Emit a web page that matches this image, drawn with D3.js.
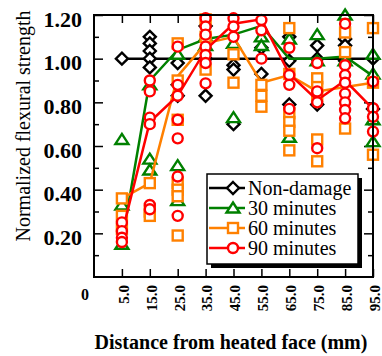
<!DOCTYPE html>
<html>
<head>
<meta charset="utf-8">
<script src="https://cdn.jsdelivr.net/npm/d3@7"></script>
<style>
  body { margin: 0; background: #fff; }
  svg text { font-family: "Liberation Serif", "Times New Roman", serif; }
</style>
</head>
<body>
<svg id="chart" width="382" height="356"></svg>
<script>
// x categories (first one is the origin "0")
const xTickLabels = ["0", "5.0", "15.0", "25.0", "35.0", "45.0", "55.0", "65.0", "75.0", "85.0", "95.0"];
const distances = xTickLabels.slice(1);
const yTicks = [0.2, 0.4, 0.6, 0.8, 1.0, 1.2];
const yMinorTicks = [0.1, 0.3, 0.5, 0.7, 0.9, 1.1];
const seriesNames = ["Non-damage", "30 minutes", "60 minutes", "90 minutes"];

// mean lines
const meanNonDamage = [1.00, 1.00, 1.00, 1.00, 1.00, 1.00, 1.00, 1.00, 1.00, 1.00];
const mean30 = [0.16, 0.90, 1.04, 1.09, 1.11, 1.15, 1.00, 1.00, 1.01, 0.92];
const mean60 = [0.36, 0.43, 0.92, 1.07, 1.10, 0.89, 0.925, 0.85, 0.87, 0.89];
const mean90 = [0.20, 0.71, 0.83, 1.04, 1.16, 1.18, 0.93, 0.81, 0.90, 0.77];

// individual specimens, one list per distance
const ptsNonDamage = [
  [1.00],
  [1.10, 1.07, 1.035, 1.00, 0.96],
  [0.98, 0.88, 0.83],
  [1.15, 1.00, 0.83],
  [0.97, 0.95, 0.70],
  [1.05, 0.93],
  [1.10, 0.99, 0.79],
  [1.06, 1.00, 0.79],
  [1.09, 1.06, 0.99],
  [1.00, 0.77]
];
const pts30 = [
  [0.63, 0.33, 0.15],
  [0.88, 0.54, 0.49],
  [1.02, 0.51, 0.35],
  [1.10, 1.06],
  [1.07, 0.73],
  [1.10, 1.06],
  [1.09, 0.64],
  [1.11, 0.99],
  [1.20, 0.99],
  [1.02, 0.93, 0.72, 0.62]
];
const pts60 = [
  [0.36, 0.28, 0.22],
  [0.43, 0.30, 0.28],
  [1.07, 0.90, 0.72, 0.43, 0.40, 0.37, 0.19],
  [1.18, 1.10, 0.95],
  [1.02, 0.89],
  [0.88, 0.83, 0.78],
  [1.14, 0.93, 0.75, 0.71, 0.67, 0.58],
  [0.91, 0.87, 0.83, 0.63, 0.53],
  [1.12, 1.03, 0.68],
  [1.14, 0.89, 0.56]
];
const pts90 = [
  [0.25, 0.21, 0.18, 0.16],
  [0.90, 0.85, 0.73, 0.70, 0.33, 0.31],
  [1.055, 0.88, 0.83, 0.72, 0.635, 0.46, 0.28],
  [1.185, 1.147, 1.11, 1.055, 1.017, 0.98, 0.887],
  [1.185, 1.147, 1.10],
  [1.177, 1.13, 1.00],
  [1.05, 0.925, 0.88, 0.77],
  [0.98, 0.85, 0.80, 0.59],
  [1.16, 0.97, 0.925, 0.89, 0.84, 0.80, 0.765, 0.727],
  [0.895, 0.773, 0.734, 0.666]
];

const colors = ["#000000", "#008000", "#ff8000", "#ff0000"];
const means = [meanNonDamage, mean30, mean60, mean90];
const points = [ptsNonDamage, pts30, pts60, pts90];

// marker shapes
const markers = [
  g => g.append('path').attr('d', 'M0,-6L6,0L0,6L-6,0Z'),
  g => g.append('path').attr('d', 'M0,-5.5L6.5,4.5L-6.5,4.5Z'),
  g => g.append('rect').attr('x', -5).attr('y', -5).attr('width', 10).attr('height', 10),
  g => g.append('circle').attr('r', 5)
];

const plotL = 94, plotR = 373, plotT = 15, plotB = 277;

const svg = d3.select('#chart');

const x = d3.scalePoint().domain(xTickLabels).range([plotL, plotR]);
const y = d3.scaleLinear().domain([0, 1.2]).range([plotB, plotT]);

// axes with inward ticks
let yAxis = svg.append('g')
  .attr('transform', 'translate(' + plotL + ',0)')
  .call(d3.axisLeft(y).tickValues(yTicks).tickSize(-9).tickPadding(12).tickFormat(d3.format('.2f')));
yAxis.selectAll('text').attr('dy', '0.5em').style('font-size', '22px').style('font-weight', 'bold').attr('fill', '#000');

svg.append('g')
  .attr('transform', 'translate(' + plotL + ',0)')
  .call(d3.axisLeft(y).tickValues(yMinorTicks).tickSize(-5).tickFormat(''));
svg.append('g')
  .attr('transform', 'translate(' + plotR + ',0)')
  .call(d3.axisRight(y).tickValues(yTicks).tickSize(-9).tickFormat(''));
svg.append('g')
  .attr('transform', 'translate(' + plotR + ',0)')
  .call(d3.axisRight(y).tickValues(yMinorTicks).tickSize(-5).tickFormat(''));

let xAxis = svg.append('g')
  .attr('transform', 'translate(0,' + plotB + ')')
  .call(d3.axisBottom(x).tickValues(distances).tickSize(-8));
xAxis.selectAll('text')
  .attr('transform', 'rotate(-90)')
  .attr('x', -8).attr('y', 0).attr('dy', '0.42em')
  .style('text-anchor', 'end')
  .style('font-size', '15px').style('font-weight', 'bold').attr('fill', '#000');

svg.append('g')
  .attr('transform', 'translate(0,' + plotT + ')')
  .call(d3.axisTop(x).tickValues(distances).tickSize(-8).tickFormat(''));

svg.selectAll('.domain').remove();
svg.selectAll('.tick line').attr('stroke', '#000').attr('stroke-width', 1.5);

// origin label
svg.append('text')
  .attr('x', x(xTickLabels[0]) - 9).attr('y', 300)
  .attr('text-anchor', 'middle')
  .style('font-size', '16px').style('font-weight', 'bold')
  .text(xTickLabels[0]);

// series: line then markers
const line = d3.line().x((d, i) => x(distances[i])).y(d => y(d));

means.forEach((m, s) => {
  svg.append('path')
    .datum(m)
    .attr('d', line)
    .attr('fill', 'none')
    .attr('stroke', colors[s])
    .attr('stroke-width', 2.5);

  points[s].forEach((vals, i) => {
    vals.forEach(v => {
      let g = svg.append('g').attr('transform', 'translate(' + x(distances[i]) + ',' + y(v) + ')');
      markers[s](g).attr('fill', '#fff').attr('stroke', colors[s]).attr('stroke-width', 2.4);
    });
  });
});

// frame
svg.append('rect')
  .attr('x', plotL).attr('y', plotT)
  .attr('width', plotR - plotL).attr('height', plotB - plotT)
  .attr('fill', 'none').attr('stroke', '#000').attr('stroke-width', 2);

// legend
const lg = svg.append('g').attr('transform', 'translate(207,174)');
lg.append('rect').attr('x', 4).attr('y', 4).attr('width', 151).attr('height', 90).attr('fill', '#000');
lg.append('rect').attr('x', 0).attr('y', 0).attr('width', 151).attr('height', 90)
  .attr('fill', '#fff').attr('stroke', '#000').attr('stroke-width', 1.5);

seriesNames.forEach((name, s) => {
  let yy = 14 + s * 20;
  lg.append('line').attr('x1', 2).attr('x2', 38).attr('y1', yy).attr('y2', yy)
    .attr('stroke', colors[s]).attr('stroke-width', 2.5);
  let g = lg.append('g').attr('transform', 'translate(26,' + yy + ')');
  markers[s](g).attr('fill', '#fff').attr('stroke', colors[s]).attr('stroke-width', 2.4);
  lg.append('text').attr('x', 41).attr('y', yy + 7)
    .style('font-size', '20px').text(name);
});

// axis titles
svg.append('text')
  .attr('x', 231).attr('y', 349)
  .attr('text-anchor', 'middle')
  .style('font-size', '20px').style('font-weight', 'bold')
  .text('Distance from heated face (mm)');

svg.append('text')
  .attr('transform', 'translate(30,126) rotate(-90)')
  .attr('text-anchor', 'middle')
  .style('font-size', '20px')
  .text('Normalized flexural strength');
</script>
</body>
</html>
